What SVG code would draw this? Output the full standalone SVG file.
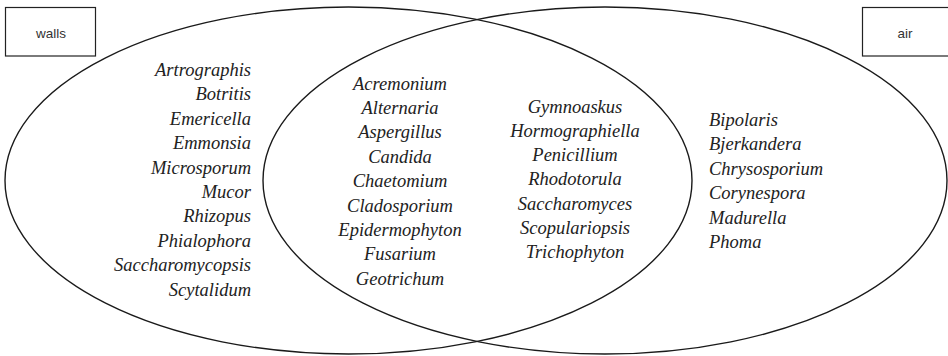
<svg xmlns="http://www.w3.org/2000/svg" width="948" height="356" viewBox="0 0 948 356">
<style>
.box{fill:#fff;stroke:#222;stroke-width:1.2}
.set{fill:none;stroke:#1a1a1a;stroke-width:1.4}
.lbl{font-family:"Liberation Sans",Arial,sans-serif;font-size:13.5px;fill:#333;text-anchor:middle}
.g{font-family:"Liberation Serif","Times New Roman",serif;font-style:italic;font-size:18.5px;fill:#222}
.r{text-anchor:end}
.c{text-anchor:middle}
.l{text-anchor:start}
</style>
<rect width="948" height="356" fill="#fff"/>
<g id="connectors">
<ellipse id="walls-set" class="set" cx="348.5" cy="180.5" rx="343.5" ry="173.5"/>
<ellipse id="air-set" class="set" cx="605" cy="180.5" rx="342" ry="173.5"/>
</g>
<g id="walls">
<rect class="box" x="5.5" y="7.5" width="90" height="48.5"/>
<text class="lbl" x="51" y="37.5">walls</text>
</g>
<g id="air">
<rect class="box" x="862.5" y="7.5" width="92" height="48.5"/>
<text class="lbl" x="905" y="37.5">air</text>
</g>
<g id="walls-only" class="g r">
<text x="251" y="76">Artrographis</text>
<text x="251" y="100.4">Botritis</text>
<text x="251" y="124.8">Emericella</text>
<text x="251" y="149.2">Emmonsia</text>
<text x="251" y="173.6">Microsporum</text>
<text x="251" y="198">Mucor</text>
<text x="251" y="222.4">Rhizopus</text>
<text x="251" y="246.8">Phialophora</text>
<text x="251" y="271.2">Saccharomycopsis</text>
<text x="251" y="295.6">Scytalidum</text>
</g>
<g id="both-a" class="g c">
<text x="400" y="89.5">Acremonium</text>
<text x="400" y="113.9">Alternaria</text>
<text x="400" y="138.3">Aspergillus</text>
<text x="400" y="162.7">Candida</text>
<text x="400" y="187.1">Chaetomium</text>
<text x="400" y="211.5">Cladosporium</text>
<text x="400" y="235.9">Epidermophyton</text>
<text x="400" y="260.3">Fusarium</text>
<text x="400" y="284.7">Geotrichum</text>
</g>
<g id="both-b" class="g c">
<text x="575" y="112.5">Gymnoaskus</text>
<text x="575" y="136.8">Hormographiella</text>
<text x="575" y="161.1">Penicillium</text>
<text x="575" y="185.4">Rhodotorula</text>
<text x="575" y="209.7">Saccharomyces</text>
<text x="575" y="234">Scopulariopsis</text>
<text x="575" y="258.3">Trichophyton</text>
</g>
<g id="air-only" class="g l">
<text x="709" y="126">Bipolaris</text>
<text x="709" y="150.4">Bjerkandera</text>
<text x="709" y="174.8">Chrysosporium</text>
<text x="709" y="199.2">Corynespora</text>
<text x="709" y="223.6">Madurella</text>
<text x="709" y="248">Phoma</text>
</g>
</svg>
